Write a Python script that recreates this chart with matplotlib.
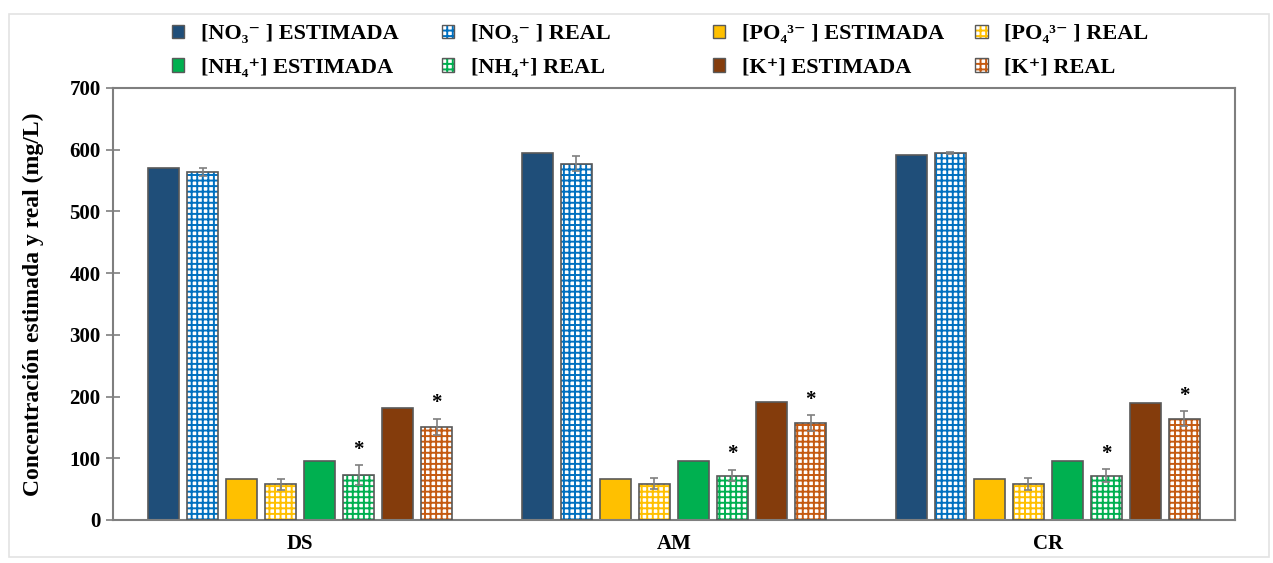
import numpy as np
import matplotlib
matplotlib.use("Agg")
import matplotlib.pyplot as plt
from matplotlib.patches import Patch, Rectangle
from matplotlib.legend_handler import HandlerTuple

plt.rcParams['font.family'] = ['Liberation Serif', 'DejaVu Serif']
plt.rcParams['font.weight'] = 'bold'
plt.rcParams['hatch.linewidth'] = 1.4

groups = ['DS', 'AM', 'CR']
series = ['[NO₃⁻ ] ESTIMADA', '[NO₃⁻ ] REAL',
          '[PO₄³⁻ ] ESTIMADA', '[PO₄³⁻ ] REAL',
          '[NH₄⁺] ESTIMADA', '[NH₄⁺] REAL',
          '[K⁺] ESTIMADA', '[K⁺] REAL']

no3_est = [570, 595, 592]
no3_real = [564, 577, 595]
no3_err = [6, 12, 2]
po4_est = [67, 67, 67]
po4_real = [58, 59, 58]
po4_err = [9, 9, 10]
nh4_est = [96, 96, 96]
nh4_real = [73, 72, 72]
nh4_err = [16, 9, 10]
k_est = [182, 191, 189]
k_real = [151, 157, 164]
k_err = [13, 13, 12]

# which real series carry a significance star
starred = [False, False, True, True]

est_vals = [no3_est, po4_est, nh4_est, k_est]
real_vals = [no3_real, po4_real, nh4_real, k_real]
real_errs = [no3_err, po4_err, nh4_err, k_err]
est_colors = ['#1F4E79', '#FFC000', '#00B050', '#843C0C']
real_colors = ['#0070C0', '#FFC000', '#00B050', '#C55A11']
outline = '#595959'

fig = plt.figure(figsize=(12.73, 5.63), dpi=100)
ax = fig.add_axes([0.0888, 0.0764, 0.8813, 0.7673])

x = np.arange(len(groups))
pitch = 0.1043
width = 0.083

handles = []
for i in range(4):
    xe = x + (2 * i - 3.5) * pitch
    xr = x + (2 * i + 1 - 3.5) * pitch
    ax.bar(xe, est_vals[i], width, color=est_colors[i], edgecolor=outline, linewidth=1.2, zorder=2)
    ax.bar(xr, real_vals[i], width, color='white', edgecolor=real_colors[i], hatch='+++',
           linewidth=0, zorder=2)
    ax.bar(xr, real_vals[i], width, color='none', edgecolor=outline, linewidth=1.2, zorder=3)
    ax.errorbar(xr, real_vals[i], yerr=real_errs[i], fmt='none', ecolor='#7f7f7f',
                elinewidth=1.2, capsize=3, capthick=1.2, zorder=4)
    if starred[i]:
        for xx, v, e in zip(xr, real_vals[i], real_errs[i]):
            ax.annotate('*', (xx, v + e), xytext=(0, 4), textcoords='offset points',
                        ha='center', va='bottom', fontsize=15, fontweight='bold')
    h_est = Patch(facecolor=est_colors[i], edgecolor=outline, linewidth=1)
    h_real = (Patch(facecolor='white', edgecolor=real_colors[i], hatch='+++', linewidth=0),
              Patch(facecolor='none', edgecolor=outline, linewidth=1))
    handles.append((h_est, h_real))

ax.set_xlim(-0.5, 2.5)
ax.set_ylim(0, 700)
ax.set_yticks(np.arange(0, 701, 100))
ax.set_xticks(x)
ax.set_xticklabels(groups, fontsize=15, fontweight='bold')
ax.tick_params(axis='x', length=0, pad=10)
ax.tick_params(axis='y', direction='inout', length=10, width=1.2, color='#7f7f7f',
               labelsize=15, pad=4)
for lab in ax.get_yticklabels():
    lab.set_fontweight('bold')
for sp in ax.spines.values():
    sp.set_color('#7f7f7f')
    sp.set_linewidth(1.5)
ax.set_ylabel('Concentración estimada y real (mg/L)', fontsize=17, fontweight='bold', labelpad=18)

# legend: 4 columns, placed one by one to keep equal spacing
col_x = [0.135, 0.347, 0.560, 0.766]
col_entries = [
    [(handles[0][0], series[0]), (handles[2][0], series[4])],
    [(handles[0][1], series[1]), (handles[2][1], series[5])],
    [(handles[1][0], series[2]), (handles[3][0], series[6])],
    [(handles[1][1], series[3]), (handles[3][1], series[7])],
]
for cx, entries in zip(col_x, col_entries):
    leg = fig.legend([e[0] for e in entries], [e[1] for e in entries],
                     loc='upper left', bbox_to_anchor=(cx, 0.957), frameon=False,
                     prop={'size': 16, 'weight': 'bold'}, handlelength=0.56, handleheight=0.56,
                     handletextpad=0.75, labelspacing=0.62, borderpad=0, borderaxespad=0,
                     handler_map={tuple: HandlerTuple(ndivide=1, pad=0)})

fig.patches.append(Rectangle((0.007, 0.01), 0.99, 0.965, transform=fig.transFigure,
                             fill=False, edgecolor='#e3e3e3', linewidth=1.2, zorder=0))

fig.savefig('out.png', dpi=100, facecolor='white')
